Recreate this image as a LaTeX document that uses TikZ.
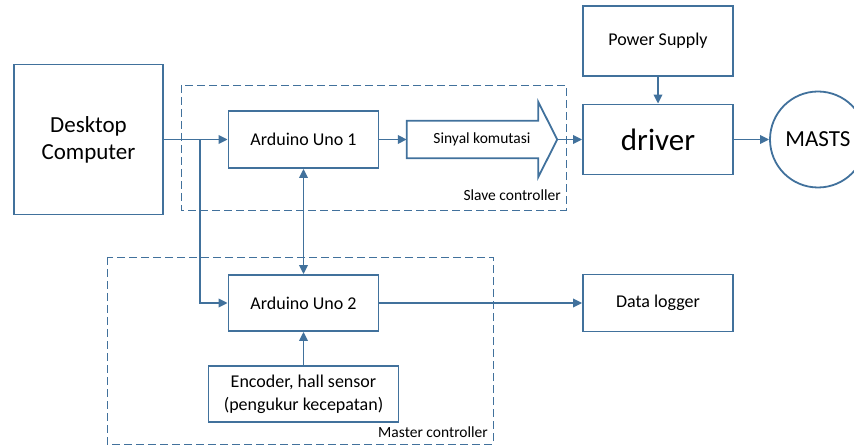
\documentclass[tikz,border=0pt]{standalone}
\usepackage{fontspec}
\setmainfont{Carlito}
\usetikzlibrary{calc,arrows.meta}
\definecolor{bblue}{RGB}{65,113,156}

\begin{document}
\begin{tikzpicture}[x=1pt, y=-1pt,
  blk/.style={draw=bblue, line width=1.8pt, fill=white, inner sep=0pt, align=center,
    minimum width=150pt, font=\fontsize{18}{21.6}\selectfont},
  grp/.style={draw=bblue, line width=0.9pt, dash pattern=on 8pt off 4pt},
  arr/.style={draw=bblue, line width=1.8pt, -{Triangle[length=9pt,width=8.5pt]}},
  arrboth/.style={draw=bblue, line width=1.8pt,
    {Triangle[length=9pt,width=8.5pt]}-{Triangle[length=9pt,width=8.5pt]}},
  lbl/.style={font=\fontsize{15.5}{18}\selectfont, inner sep=0pt}]

\useasboundingbox (0,0) rectangle (854,446);
\clip (0,0) rectangle (854,446);

% controller groups
\draw[grp] (181,85) rectangle (566,210);
\draw[grp] (107,257) rectangle (493,444);

\node[lbl, anchor=east] (slavelbl) at (561,195) {Slave controller};
\node[lbl, anchor=east] (masterlbl) at (488,432) {Master controller};


\node[blk, minimum width=149pt, minimum height=150pt, font=\fontsize{23}{27}\selectfont] (desk) at (88.5,139.5) {Desktop\\Computer};

\node[blk, minimum height=57pt] (ard1) at (303.5,139.5) {Arduino Uno 1};
\node[blk, minimum height=56pt] (ard2) at (303.5,303) {Arduino Uno 2};
\node[blk, minimum width=190pt, minimum height=56pt, font=\fontsize{18}{23}\selectfont] (enc) at (303.5,394) {Encoder, hall sensor\\(pengukur kecepatan)};

\node[blk, minimum height=70pt] (ps) at (658,41) {Power Supply};
\node[blk, minimum height=70pt, font=\fontsize{31}{36}\selectfont] (drv) at (658,139.5) {driver};
\node[blk, minimum height=57pt] (log) at (658,303) {Data logger};
\node[blk, circle, minimum width=96pt, font=\fontsize{23}{27}\selectfont] (masts) at (818,139.5) {MASTS};

% signal arrow
\node[inner sep=0pt, minimum width=150pt, minimum height=37pt, font=\fontsize{15.5}{18}\selectfont] (sig) at (482,139.5) {Sinyal komutasi};
\draw[bblue, line width=1.8pt, line join=miter]
  (sig.north west) -- ($(sig.north east)+(-19,0)$) -- ($(sig.north east)+(-19,-19)$)
  -- (sig.east) -- ($(sig.south east)+(-19,19)$) -- ($(sig.south east)+(-19,0)$)
  -- (sig.south west) -- cycle;


\coordinate (split) at (200,139.5);

\draw[arr] (desk) -- (ard1);
\draw[arr] (split) |- (ard2);
\draw[arr] (ard1) -- (sig);
\draw[arr] (sig) -- (drv);
\draw[arr] (ps) -- (drv);
\draw[arr] (drv) -- (masts);
\draw[arrboth] (ard1) -- (ard2);
\draw[arr] (enc) -- (ard2);
\draw[arr] (ard2) -- (log);

\end{tikzpicture}
\end{document}
